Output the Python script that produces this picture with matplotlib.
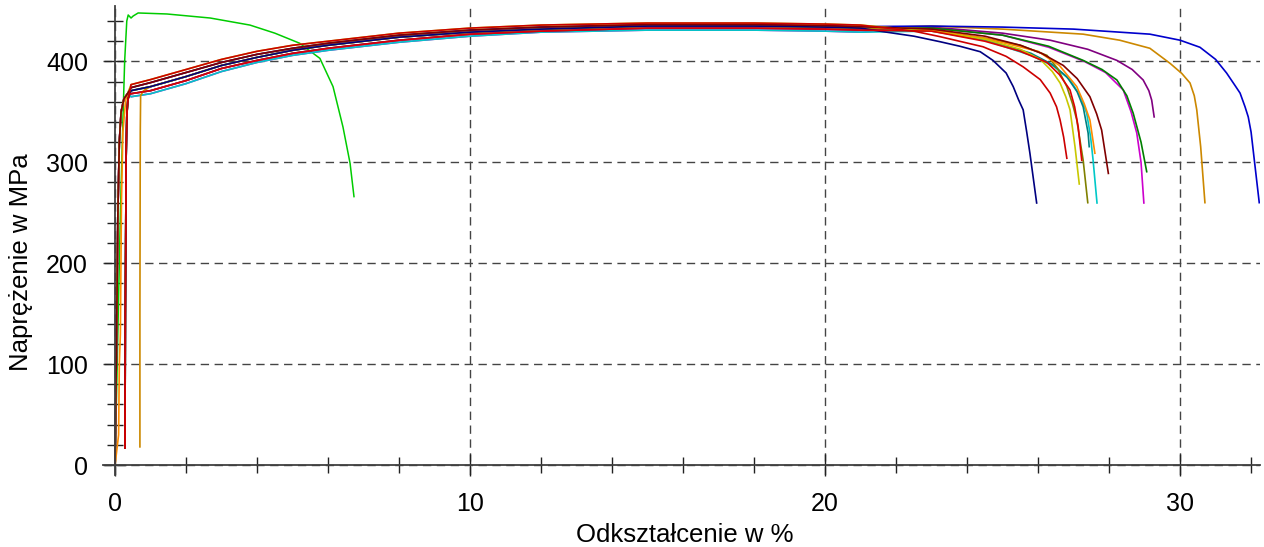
import matplotlib
matplotlib.use("Agg")
import matplotlib.pyplot as plt
from matplotlib.ticker import MultipleLocator

plt.rcParams['font.family'] = ['Liberation Sans', 'DejaVu Sans']

# elastic part, four kinds of starting offsets
start_origin_x = [0.0, 0.04, 0.08, 0.12, 0.17, 0.25, 0.35]
start_origin_y = [0, 120, 250, 320, 350, 363, 368]
start_shift_x = [0.28, 0.29, 0.31, 0.33, 0.36, 0.40]
start_shift_y = [17, 150, 300, 345, 362, 367]
start_late_x = [0.70, 0.70, 0.71, 0.72, 0.80]
start_late_y = [18, 150, 330, 366, 371]
start_step_x = [0.0, 0.10, 0.12, 0.15, 0.18, 0.22, 0.30]
start_step_y = [0, 30, 100, 130, 260, 330, 362]

# hardening part (five levels across the band)
body_x = [0.45, 1, 2, 3, 4, 5, 6, 8, 10, 12, 15, 18, 20, 21]
body_hi = [377, 382, 392, 402, 410, 416, 420, 428, 433, 436, 438, 438, 437, 436]
body_mh = [374, 379, 389, 399, 407, 413, 418, 426, 431, 434, 436.5, 436.5, 435.5, 434.5]
body_mid = [371, 375, 385, 396, 404, 411, 416, 424, 429, 432, 435, 435, 434, 433]
body_ml = [368, 371, 381, 393, 401, 408, 413, 421, 427, 430, 433, 433, 432, 431]
body_lo = [365, 368, 378, 390, 399, 406, 411, 419, 425, 429, 431, 431, 430, 429]

# necking and fracture of each specimen
navy_x = [21.63, 22.5, 23.24, 23.8, 24.37, 24.73, 25.1, 25.3, 25.45, 25.58, 25.68, 25.77, 25.96]
navy_y = [429.5, 425, 419.5, 415, 409.6, 401, 388.5, 375, 362, 352, 330, 309, 259.7]
red1_x = [22.5, 23.24, 24.45, 25.1, 25.58, 26.06, 26.34, 26.52, 26.62, 26.72, 26.81]
red1_y = [430, 424.5, 414.5, 405, 394.6, 382, 368.6, 355, 342, 325, 304]
yellow_x = [23, 24.5, 25.5, 26.06, 26.4, 26.62, 26.78, 26.9, 27.04, 27.16]
yellow_y = [430, 422, 412, 402, 390, 378.6, 365, 352, 315.5, 278.5]
red2_x = [23, 24.5, 25.5, 26.25, 26.6, 26.9, 27.03, 27.13, 27.23]
red2_y = [430, 420, 410, 399, 387, 371.7, 355, 335, 302]
olive_x = [23, 24.5, 25.5, 26.25, 26.55, 26.81, 26.97, 27.09, 27.27, 27.4]
olive_y = [431, 423, 416, 406, 393, 375, 358, 342, 302, 260]
teal_x = [23, 24.5, 25.8, 26.4, 26.81, 27.1, 27.27, 27.41, 27.44]
teal_y = [431, 422, 408, 397, 384.8, 370, 355, 329, 315.5]
cyan_x = [23, 24.5, 25.8, 26.45, 26.9, 27.2, 27.37, 27.48, 27.55, 27.66]
cyan_y = [430, 421, 406, 395, 381.6, 365, 348.6, 325, 302, 259.7]
orange_x = [23, 24.5, 26, 26.6, 27.09, 27.3, 27.46, 27.6]
orange_y = [431, 423, 410, 396, 375, 358, 342, 309]
maroon_x = [23, 24.5, 25.5, 26.1, 26.71, 27.1, 27.46, 27.65, 27.79, 27.98]
maroon_y = [432, 425, 416, 408, 396, 383, 365, 348, 332, 289]
green_x = [23, 25, 26.3, 27.27, 27.8, 28.22, 28.5, 28.68, 28.9, 29.06]
green_y = [433, 426, 415, 401, 392, 381.6, 366, 348.6, 320, 290.7]
magenta_x = [23, 25, 26.3, 27.3, 27.9, 28.4, 28.62, 28.78, 28.9, 28.98]
magenta_y = [433, 426, 414, 400, 389, 371.7, 350, 329, 300, 259.7]
purple_x = [23, 25, 26.34, 27.4, 28.22, 28.65, 28.96, 29.12, 29.2, 29.27]
purple_y = [434, 428, 421, 412, 401, 392, 381.6, 371, 361.7, 345]
gold_x = [23, 25, 27.27, 28.3, 29.15, 29.72, 30.05, 30.28, 30.4, 30.47, 30.58, 30.7]
gold_y = [435, 432, 427, 421, 413, 398, 388, 378.6, 366, 352, 315.5, 260]
blue_x = [23, 25, 27, 29.15, 30, 30.56, 31.0, 31.31, 31.55, 31.69, 31.83, 31.92, 32.0, 32.23]
blue_y = [435, 434, 432, 427, 421, 414, 402, 388.5, 376, 368.6, 355, 345, 330, 260]

# the one specimen that broke early
outlier_x = [0.0, 0.15, 0.22, 0.27, 0.33, 0.37, 0.45, 0.51, 0.65, 1.46, 2.68,
             3.8, 4.5, 5.2, 5.77, 6.14, 6.42, 6.62, 6.73]
outlier_y = [0, 250, 340, 400, 440, 446, 443, 445, 448, 447, 443,
             436, 428, 418, 403, 375, 335, 299, 266]

starts = {'origin': (start_origin_x, start_origin_y),
          'shift': (start_shift_x, start_shift_y),
          'late': (start_late_x, start_late_y),
          'step': (start_step_x, start_step_y)}
bodies = {'hi': body_hi, 'mh': body_mh, 'mid': body_mid, 'ml': body_ml, 'lo': body_lo}

specimens = [
    ('#cc00cc', 'origin', 'lo', magenta_x, magenta_y),
    ('#00c8c8', 'shift', 'lo', cyan_x, cyan_y),
    ('#008080', 'shift', 'ml', teal_x, teal_y),
    ('#800080', 'origin', 'ml', purple_x, purple_y),
    ('#008000', 'shift', 'mid', green_x, green_y),
    ('#808000', 'origin', 'mid', olive_x, olive_y),
    ('#ff8c00', 'step', 'mh', orange_x, orange_y),
    ('#cc8800', 'late', 'mid', gold_x, gold_y),
    ('#0000cc', 'origin', 'mh', blue_x, blue_y),
    ('#000080', 'shift', 'mid', navy_x, navy_y),
    ('#c8c800', 'origin', 'hi', yellow_x, yellow_y),
    ('#800000', 'origin', 'mh', maroon_x, maroon_y),
    ('#dd0000', 'shift', 'ml', red2_x, red2_y),
    ('#cc0000', 'shift', 'hi', red1_x, red1_y),
]

fig = plt.figure(figsize=(12.64, 5.47), dpi=100)
ax = fig.add_axes([0.0812, 0.1314, 0.9156, 0.8578])

ax.plot(outlier_x, outlier_y, color='#00cc00', lw=1.1)
for color, s, b, tx, ty in specimens:
    sx, sy = starts[s]
    bx = [x for x in body_x if x > sx[-1] and x < tx[0]]
    by = [y for x, y in zip(body_x, bodies[b]) if x > sx[-1] and x < tx[0]]
    ax.plot(sx + bx + tx, sy + by + ty, color=color, lw=1.2)

ax.set_xlim(-0.35, 32.25)
ax.set_ylim(-10, 455)
ax.xaxis.set_major_locator(MultipleLocator(10))
ax.xaxis.set_minor_locator(MultipleLocator(2))
ax.yaxis.set_major_locator(MultipleLocator(100))
ax.yaxis.set_minor_locator(MultipleLocator(20))

for side in ['top', 'right']:
    ax.spines[side].set_visible(False)
for side in ['left', 'bottom']:
    ax.spines[side].set_position(('data', 0))
    ax.spines[side].set_color('#404040')
    ax.spines[side].set_linewidth(1.3)

ax.tick_params(which='major', direction='inout', length=16, width=1, color='#222222',
               labelsize=18, pad=11.5)
ax.tick_params(which='minor', direction='inout', length=11, width=1, color='#222222')
ax.grid(which='major', color='#444444', linestyle=(0, (6, 4)), linewidth=1)
ax.set_axisbelow(True)

fig.text(0.542, 0.022, 'Odkształcenie w %', ha='center', va='center', fontsize=18.5)
fig.text(0.017, 0.52, 'Naprężenie w MPa', ha='center', va='center', rotation=90,
         fontsize=18.5)

fig.savefig('out.png', dpi=100)
